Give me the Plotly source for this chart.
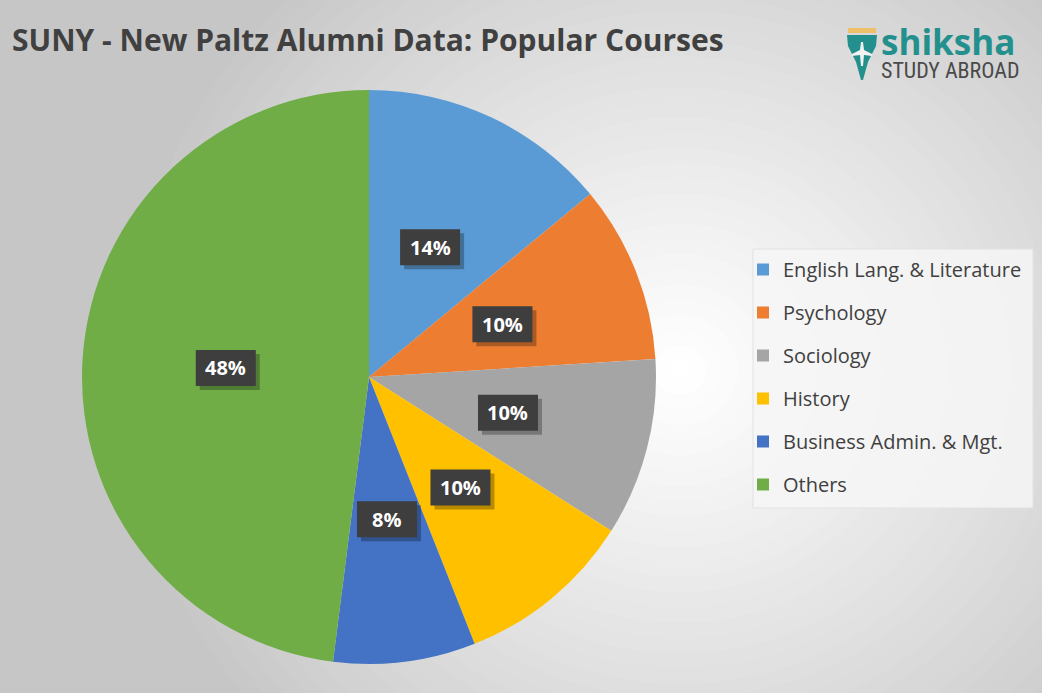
import math
import plotly.graph_objects as go

# ---- data ----
courses = ["English Lang. & Literature", "Psychology", "Sociology", "History",
           "Business Admin. & Mgt.", "Others"]
shares = [14, 10, 10, 10, 8, 48]
colors = ["#5B9BD5", "#ED7D31", "#A5A5A5", "#FFC000", "#4472C4", "#70AD47"]
title_text = "SUNY - New Paltz Alumni Data: Popular Courses"

W, H = 1042, 693
def px(x):
    return x / W
def py(y):
    return 1 - y / H

# pie geometry (pixels)
cx, cy, R = 369, 377, 287

fig = go.Figure()
fig.add_trace(go.Pie(
    labels=courses, values=shares, sort=False, direction="clockwise", rotation=0,
    marker=dict(colors=colors, line=dict(width=0)),
    textinfo="none", hoverinfo="label+percent", showlegend=False,
    domain=dict(x=[px(cx - R), px(cx + R)], y=[py(cy + R), py(cy - R)]),
))
# legend entries (one per course, own group so spacing can be set)
for name, col in zip(courses, colors):
    fig.add_trace(go.Scatter(x=[None], y=[None], mode="markers", name=name,
                             legendgroup=name, hoverinfo="skip",
                             marker=dict(symbol="square", size=12, color=col)))

shapes = []
# radial gradient background
n = 36
c_out, c_in = 198, 255
gcx, gcy = 680, 370
Rmax = 560
for i in range(n):
    t = i / (n - 1)
    r = Rmax * (1 - t) + 10
    v = int(round(c_out + (c_in - c_out) * (t ** 0.9)))
    col = f"rgb({v},{v},{v})"
    shapes.append(dict(type="circle", xref="paper", yref="paper", layer="below",
                       x0=px(gcx - r), x1=px(gcx + r), y0=py(gcy + r * 0.95), y1=py(gcy - r * 0.95),
                       fillcolor=col, line=dict(width=0)))

# legend panel
shapes.append(dict(type="rect", xref="paper", yref="paper", layer="below",
                   x0=px(753), x1=px(1033), y0=py(508), y1=py(249),
                   fillcolor="rgba(246,246,246,0.85)", line=dict(color="#e2e2e2", width=1)))

# logo pen nib
def pp(pts):
    return "M " + " L ".join(f"{px(x):.5f},{py(y):.5f}" for x, y in pts) + " Z"
shapes.append(dict(type="path", xref="paper", yref="paper",
                   path=pp([(847, 35), (877, 35), (876, 46), (868, 62), (863, 80), (861, 80), (856, 62), (848, 46)]),
                   fillcolor="#23908d", line=dict(width=0)))
shapes.append(dict(type="rect", xref="paper", yref="paper",
                   x0=px(848), x1=px(876), y0=py(33), y1=py(28),
                   fillcolor="#efc06a", line=dict(width=0)))
shapes.append(dict(type="path", xref="paper", yref="paper",
                   path=pp([(861, 42), (863, 42), (864, 50), (872, 54), (872, 56), (864, 55), (863, 66), (861, 66), (860, 55), (852, 56), (852, 54), (860, 50)]),
                   fillcolor="#f2f2f2", line=dict(width=0)))

annotations = []
# data labels (box, shadow and text)
total = sum(shares)
cum = 0
bw, bh = 30, 18
for v in shares:
    mid = (cum + v / 2) / total * 2 * math.pi
    cum += v
    lx = cx + 0.5 * R * math.sin(mid)
    ly = cy - 0.5 * R * math.cos(mid)
    lab = f"{round(v / total * 100)}%"
    shapes.append(dict(type="rect", xref="paper", yref="paper", layer="above",
                       x0=px(lx - bw + 4), x1=px(lx + bw + 4), y0=py(ly + bh + 4), y1=py(ly - bh + 4),
                       fillcolor="rgba(0,0,0,0.28)", line=dict(width=0)))
    shapes.append(dict(type="rect", xref="paper", yref="paper", layer="above",
                       x0=px(lx - bw), x1=px(lx + bw), y0=py(ly + bh), y1=py(ly - bh),
                       fillcolor="#3e3e3e", line=dict(width=0)))
    annotations.append(dict(x=px(lx), y=py(ly), xref="paper", yref="paper", showarrow=False,
                            xanchor="center", yanchor="middle",
                            text=f"<b>{lab}</b>", font=dict(family="Open Sans", size=20, color="white")))

# logo text (one block, two lines)
logo_text = ("<span style='font-family:\"Open Sans\";font-size:35px;color:#23908d'><b>shiksha</b></span>"
             "<br><span style='font-size:22px'>STUDY ABROAD</span>")
annotations.append(dict(x=px(879), y=py(16), xref="paper", yref="paper", xanchor="left", yanchor="top",
                        showarrow=False, align="left", text=logo_text,
                        font=dict(family="Liberation Sans Narrow, Roboto Condensed, Roboto", size=18, color="#4a4a4a")))

fig.update_layout(
    width=W, height=H,
    margin=dict(l=0, r=0, t=0, b=0),
    paper_bgcolor="rgb(198,198,198)",
    plot_bgcolor="rgba(0,0,0,0)",
    xaxis=dict(visible=False), yaxis=dict(visible=False),
    title=dict(text=f"<b>{title_text}</b>", x=px(12), xanchor="left", y=py(40), yanchor="middle",
               font=dict(family="Open Sans", size=30, color="#404040")),
    showlegend=True,
    legend=dict(x=px(743), y=py(250), xanchor="left", yanchor="top",
                traceorder="grouped", tracegroupgap=14,
                bgcolor="rgba(0,0,0,0)", borderwidth=0,
                font=dict(family="Open Sans", size=20, color="#404040")),
    shapes=shapes,
    annotations=annotations,
)

fig.write_html("out.html", config={"displayModeBar": False},
               post_script="document.body.style.margin='0px';document.body.style.padding='0px';")
